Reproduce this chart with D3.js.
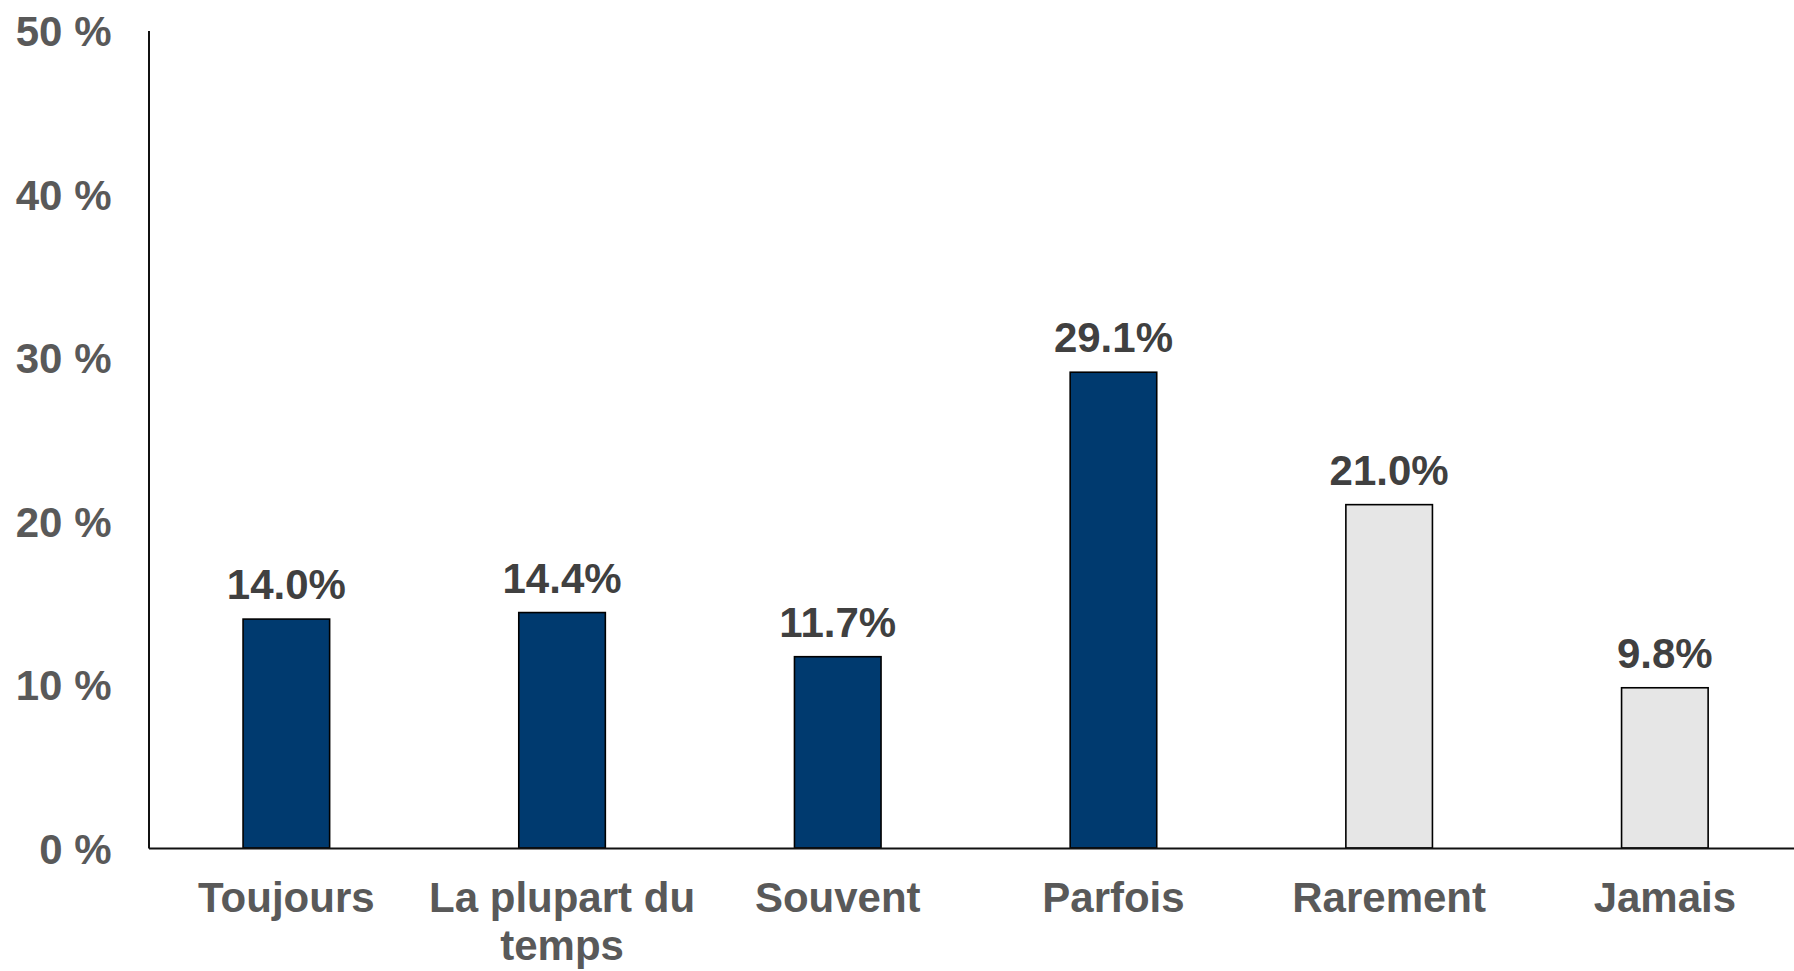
<!DOCTYPE html>
<html lang="fr">

<head>
  <meta charset="UTF-8">
  <title>Fréquence</title>
  <script src="https://cdnjs.cloudflare.com/ajax/libs/d3/7.8.5/d3.min.js"></script>
  <style>
    body {
      margin: 0;
      background: #fff;
    }

    svg {
      display: block;
      font-family: "Liberation Sans", Arial, sans-serif;
      font-weight: bold;
    }

    .tick text {
      fill: #595959;
      font-size: 42px;
    }

    .value {
      fill: #404040;
      font-size: 42px;
    }
  </style>
</head>

<body>
  <svg id="chart" width="1794" height="971"></svg>
  <script>
    const categories = ['Toujours', 'La plupart du temps', 'Souvent', 'Parfois', 'Rarement', 'Jamais'];
    const values = [14.0, 14.4, 11.7, 29.1, 21.0, 9.8];
    const highlighted = [true, true, true, true, false, false];
    const yTicks = [0, 10, 20, 30, 40, 50];

    const svg = d3.select('#chart');
    const marginLeft = 148.5, marginTop = 30.5, baseY = 848, step = 275.7;

    const x = d3.scaleBand()
      .domain(categories)
      .range([marginLeft, marginLeft + step * categories.length])
      .paddingInner(0.686)
      .paddingOuter(0.343);

    const y = d3.scaleLinear()
      .domain([0, 50])
      .range([baseY, marginTop]);

    // y axis
    const yAxis = svg.append('g')
      .attr('transform', `translate(${marginLeft},0)`)
      .call(d3.axisLeft(y).tickValues(yTicks).tickSize(0).tickPadding(37).tickFormat(d => d + ' %'));
    yAxis.select('.domain').attr('stroke', '#111').attr('stroke-width', 2);
    yAxis.selectAll('.tick text').attr('dy', '0.36em');

    // bars
    svg.append('g')
      .selectAll('rect')
      .data(values)
      .enter().append('rect')
      .attr('x', (d, i) => x(categories[i]))
      .attr('y', d => y(d))
      .attr('width', x.bandwidth())
      .attr('height', d => y(0) - y(d))
      .attr('fill', (d, i) => highlighted[i] ? '#003A6F' : '#E6E6E6')
      .attr('stroke', '#000')
      .attr('stroke-width', 1.6);

    // value labels
    svg.append('g')
      .selectAll('text')
      .data(values)
      .enter().append('text')
      .attr('class', 'value')
      .attr('x', (d, i) => x(categories[i]) + x.bandwidth() / 2)
      .attr('y', d => y(d) - 20)
      .attr('text-anchor', 'middle')
      .text(d => d.toFixed(1) + '%');

    // x axis
    const xAxis = svg.append('g')
      .attr('transform', `translate(0,${baseY})`)
      .call(d3.axisBottom(x).tickSize(0).tickPadding(0));
    xAxis.select('.domain').attr('stroke', '#111').attr('stroke-width', 2);
    xAxis.selectAll('.tick text')
      .attr('y', 64)
      .attr('dy', 0)
      .call(wrap, step + 20);

    function wrap(texts, width) {
      texts.each(function () {
        const text = d3.select(this);
        const words = text.text().split(/\s+/);
        const yy = text.attr('y');
        text.text(null);
        let line = [];
        let lineNo = 0;
        let tspan = text.append('tspan').attr('x', 0).attr('y', yy).attr('dy', 0);
        words.forEach(w => {
          line.push(w);
          tspan.text(line.join(' '));
          if (tspan.node().getComputedTextLength() > width && line.length > 1) {
            line.pop();
            tspan.text(line.join(' '));
            line = [w];
            lineNo++;
            tspan = text.append('tspan').attr('x', 0).attr('y', yy).attr('dy', lineNo * 48).text(w);
          }
        });
      });
    }
  </script>
</body>

</html>
